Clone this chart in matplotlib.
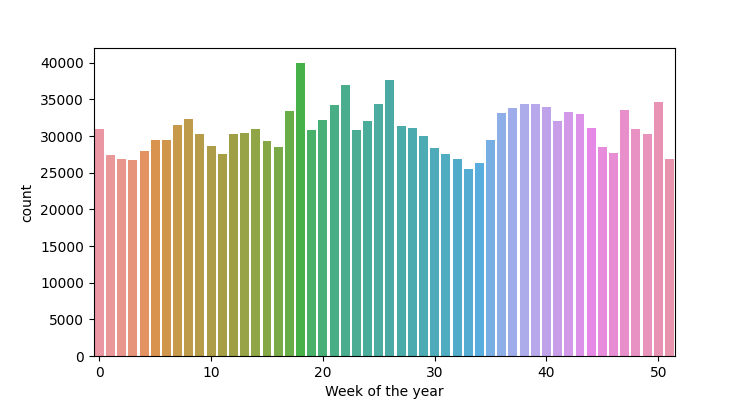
import matplotlib
matplotlib.use("Agg")
import matplotlib.pyplot as plt
import seaborn as sns

weeks = list(range(52))
counts = [31000, 27400, 26850, 26700, 27950, 29470, 29470, 31530, 32350, 30300,
          28650, 27550, 30300, 30440, 30980, 29330, 28510, 33450, 40000, 30840,
          32210, 34270, 37020, 30840, 32070, 34410, 37570, 31390, 31110, 30010,
          28360, 27540, 26850, 25480, 26300, 29460, 33170, 33860, 34410, 34410,
          34000, 32070, 33310, 33040, 31110, 28510, 27680, 33590, 30980, 30290,
          34690, 26850]
xtick_vals = [0, 10, 20, 30, 40, 50]

colors = [sns.desaturate(c, 0.75) for c in sns.husl_palette(len(weeks), l=.7)]

fig, ax = plt.subplots(figsize=(7.5, 4), dpi=100)
ax.bar(weeks, counts, width=0.8, color=colors)
ax.set_xlim(-0.5, len(weeks) - 0.5)
ax.set_xticks(xtick_vals)
ax.set_xlabel("Week of the year")
ax.set_ylabel("count")
fig.savefig("out.png", dpi=100)
